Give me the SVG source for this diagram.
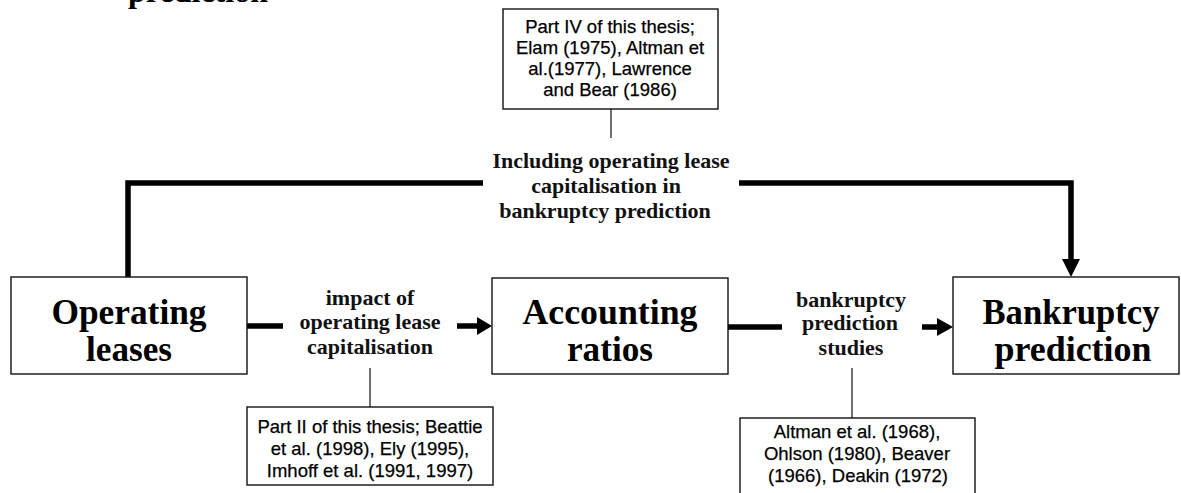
<svg xmlns="http://www.w3.org/2000/svg" width="1181" height="493" viewBox="0 0 1181 493">
  <style>
    .box { fill: #fff; stroke: #111; stroke-width: 1.4; }
    .thin { stroke: #111; stroke-width: 1.2; fill: none; }
    .thick { stroke: #000; stroke-width: 5.5; fill: none; }
    .head { fill: #000; }
    .big { font-family: "Liberation Serif", "Times New Roman", serif; font-weight: bold; font-size: 36px; fill: #000; text-anchor: middle; }
    .lbl { font-family: "Liberation Serif", "Times New Roman", serif; font-weight: bold; font-size: 22px; fill: #111; text-anchor: middle; }
    .ref { font-family: "Liberation Sans", Arial, sans-serif; font-size: 18.5px; fill: #000; text-anchor: middle; stroke: #000; stroke-width: 0.25; }
  </style>
  <rect width="1181" height="493" fill="#fff"/>

  <!-- heading running off the top edge -->
  <text x="128" y="2" font-family="Liberation Serif, serif" font-weight="bold" font-size="32" textLength="140" lengthAdjust="spacingAndGlyphs">prediction</text>

  <g id="connectors">
    <!-- capitalisation route over the top -->
    <path class="thick" d="M128,277 V183 H483"/>
    <path class="thick" d="M739,183 H1071 V260"/>
    <polygon class="head" points="1062,259 1080,259 1071,277"/>
    <!-- operating leases to accounting ratios -->
    <path class="thick" d="M247,326 H283"/>
    <path class="thick" d="M457,326 H479"/>
    <polygon class="head" points="477,317 477,335 492,326"/>
    <!-- accounting ratios to bankruptcy prediction -->
    <path class="thick" d="M728,327 H782"/>
    <path class="thick" d="M922,327 H939"/>
    <polygon class="head" points="937,318 937,336 953,327"/>
    <!-- reference leaders -->
    <path class="thin" d="M611,109 V138"/>
    <path class="thin" d="M370,368 V407"/>
    <path class="thin" d="M852,368 V418"/>
  </g>

  <g id="route-label">
    <text class="lbl" x="611" y="168">Including operating lease</text>
    <text class="lbl" x="606" y="193">capitalisation in</text>
    <text class="lbl" x="605" y="218">bankruptcy prediction</text>
  </g>

  <g id="impact-label">
    <text class="lbl" x="370" y="305">impact of</text>
    <text class="lbl" x="370" y="329">operating lease</text>
    <text class="lbl" x="370" y="354">capitalisation</text>
  </g>

  <g id="studies-label">
    <text class="lbl" x="851" y="307">bankruptcy</text>
    <text class="lbl" x="850" y="330">prediction</text>
    <text class="lbl" x="851" y="355">studies</text>
  </g>

  <g id="operating-leases">
    <rect class="box" x="11" y="277" width="236" height="97"/>
    <text class="big" x="129" y="324" textLength="155" lengthAdjust="spacingAndGlyphs">Operating</text>
    <text class="big" x="129" y="361" textLength="86" lengthAdjust="spacingAndGlyphs">leases</text>
  </g>

  <g id="accounting-ratios">
    <rect class="box" x="492" y="278" width="236" height="96"/>
    <text class="big" x="610" y="324" textLength="175" lengthAdjust="spacingAndGlyphs">Accounting</text>
    <text class="big" x="610" y="361" textLength="86" lengthAdjust="spacingAndGlyphs">ratios</text>
  </g>

  <g id="bankruptcy-prediction">
    <rect class="box" x="953" y="277" width="226" height="97"/>
    <text class="big" x="1071" y="324" textLength="177" lengthAdjust="spacingAndGlyphs">Bankruptcy</text>
    <text class="big" x="1073" y="361" textLength="157" lengthAdjust="spacingAndGlyphs">prediction</text>
  </g>

  <g id="ref-part-iv">
    <rect class="box" x="503" y="9" width="215" height="100"/>
    <text class="ref" x="610" y="33">Part IV of this thesis;</text>
    <text class="ref" x="610" y="54">Elam (1975), Altman et</text>
    <text class="ref" x="610" y="75">al.(1977), Lawrence</text>
    <text class="ref" x="610" y="96">and Bear (1986)</text>
  </g>

  <g id="ref-part-ii">
    <rect class="box" x="247" y="407" width="246" height="78"/>
    <text class="ref" x="370" y="433">Part II of this thesis; Beattie</text>
    <text class="ref" x="370" y="455">et al. (1998), Ely (1995),</text>
    <text class="ref" x="370" y="477">Imhoff et al. (1991, 1997)</text>
  </g>

  <g id="ref-bankruptcy-studies">
    <rect class="box" x="740" y="418" width="235" height="90"/>
    <text class="ref" x="857" y="438">Altman et al. (1968),</text>
    <text class="ref" x="857" y="460">Ohlson (1980), Beaver</text>
    <text class="ref" x="858" y="482">(1966), Deakin (1972)</text>
  </g>
</svg>
